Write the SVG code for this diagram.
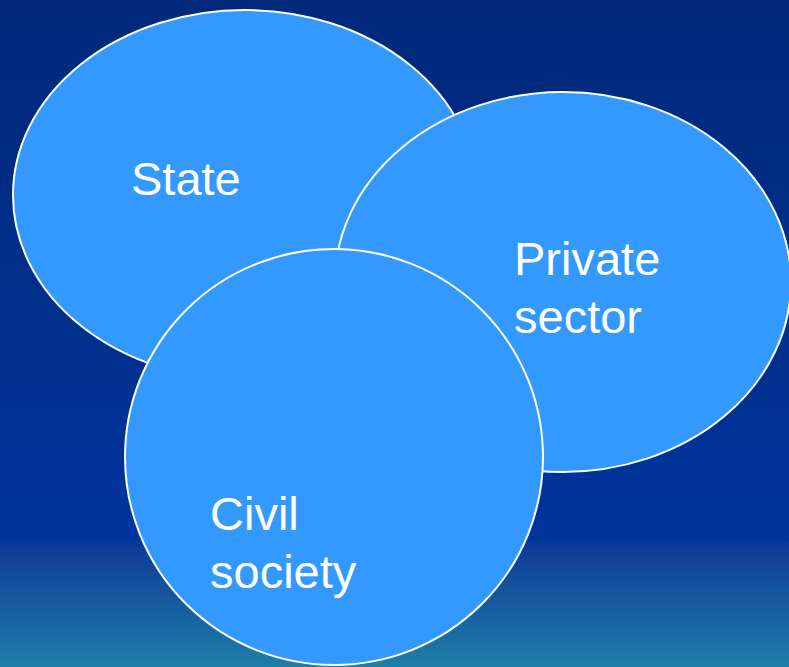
<svg xmlns="http://www.w3.org/2000/svg" width="789" height="667" viewBox="0 0 789 667">
<defs>
<linearGradient id="bg" x1="0" y1="0" x2="0" y2="1">
<stop offset="0" stop-color="#00297a"/>
<stop offset="0.5" stop-color="#002f8c"/>
<stop offset="0.81" stop-color="#0035a0"/>
<stop offset="0.82" stop-color="#0f3c98"/>
<stop offset="1" stop-color="#1f7ea8"/>
</linearGradient>
<style>
.n{fill:#3399ff;stroke:#ffffff;stroke-width:2}
.t{font-family:"Liberation Sans",Arial,sans-serif;font-size:47px;fill:#ffffff}
</style>
</defs>
<rect width="789" height="667" fill="url(#bg)"/>
<g id="state">
<ellipse class="n" cx="245" cy="195" rx="232" ry="185"/>
<text class="t" x="131" y="195">State</text>
</g>
<g id="private-sector">
<ellipse class="n" cx="563" cy="282" rx="228" ry="190"/>
<text class="t" x="514" y="275">Private</text>
<text class="t" x="514" y="333">sector</text>
</g>
<g id="civil-society">
<ellipse class="n" cx="334" cy="457" rx="209" ry="208"/>
<text class="t" x="210" y="530">Civil</text>
<text class="t" x="210" y="588">society</text>
</g>
<g id="connectors"/>
</svg>
